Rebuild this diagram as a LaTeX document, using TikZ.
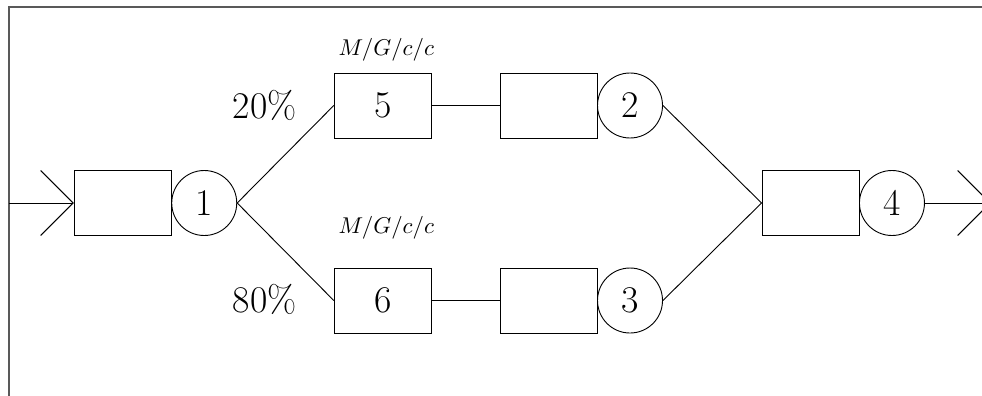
\documentclass[tikz,border=0pt]{standalone}
\usepackage{amsmath}
\usetikzlibrary{arrows.meta}
\tikzset{
    queuebox/.style={draw, rectangle, minimum width=1.5cm, minimum height=1cm, inner sep=0pt, font=\fontsize{16.5}{20}\selectfont},
    server/.style={draw, circle, minimum size=1cm, inner sep=0pt, font=\fontsize{16.5}{20}\selectfont},
    flowtip/.style={-{Straight Barb[length=5mm, width=10mm]}},
    frameline/.style={black!65, line width=0.8pt},
    pct/.style={font=\fontsize{16.5}{20}\selectfont}
}
\begin{document}
\begin{tikzpicture}
    \clip (-1.892,-2.954) rectangle (13.215,3.123);
    % Frame
    \draw[frameline] (-1.754,-4) |- (14,3.015);
    % Entry station
    \coordinate (in) at (-1.754,0);
    \node[queuebox] (q1) at (0,0) {};
    \node[server] (s1) at (1.25,0) {1};
    % Upper branch
    \node[queuebox] (q5) at (4,1.5) {5};
    \node[queuebox] (q2) at (6.55,1.5) {};
    \node[server] (s2) at (7.8,1.5) {2};
    % Lower branch
    \node[queuebox] (q6) at (4,-1.5) {6};
    \node[queuebox] (q3) at (6.55,-1.5) {};
    \node[server] (s3) at (7.8,-1.5) {3};
    % Exit station
    \node[queuebox] (q4) at (10.58,0) {};
    \node[server] (s4) at (11.83,0) {4};
    \coordinate (out) at (13.35,0);
    % Connectors
    \draw[flowtip] (in) -- (q1.west);
    \draw (s1.east) -- (q5.west);
    \draw (s1.east) -- (q6.west);
    \draw (q5.east) -- (q2.west);
    \draw (q6.east) -- (q3.west);
    \draw (s2.east) -- (q4.west);
    \draw (s3.east) -- (q4.west);
    \draw[flowtip] (s4.east) -- (out);
    % Labels
    \node[pct] (p20) at (2.18,1.5) {20\%};
    \node[pct] (p80) at (2.18,-1.49) {80\%};
    \node (m5) at (4.05,2.35) {$M/G/c/c$};
    \node (m6) at (4.05,-0.385) {$M/G/c/c$};
\end{tikzpicture}
\end{document}
